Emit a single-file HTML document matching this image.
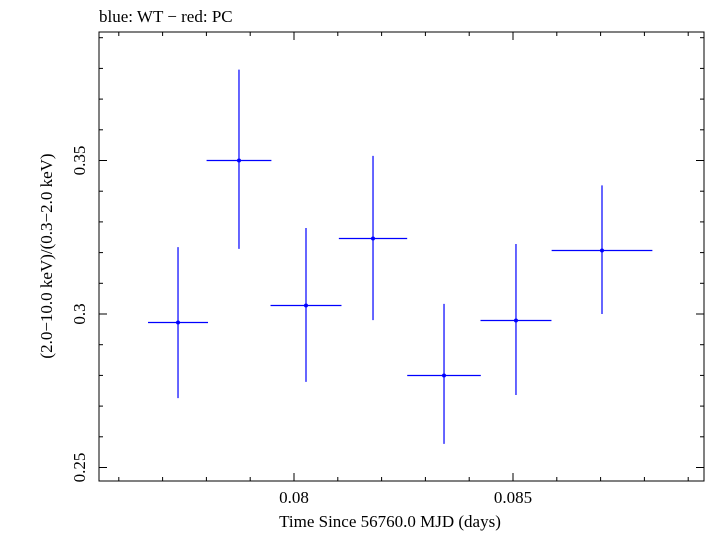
<!DOCTYPE html>
<html><head><meta charset="utf-8"><style>
body{margin:0;background:#fff;}
svg text{font-family:"Liberation Serif",serif;fill:#000;}
</style></head><body>
<svg id="chart" width="705" height="532" xmlns="http://www.w3.org/2000/svg">
<text x="99" y="22" font-size="17">blue: WT − red: PC</text>
<rect x="99" y="32" width="605" height="449" fill="none" stroke="#000" stroke-width="1"/>
<g id="ticks"></g>
<g id="marks"></g>
<text x="390" y="527" font-size="17" text-anchor="middle">Time Since 56760.0 MJD (days)</text>
<text transform="translate(52,256) rotate(-90)" font-size="17" text-anchor="middle">(2.0−10.0 keV)/(0.3−2.0 keV)</text>
</svg>
<script>
const times=[0.077352,0.078744,0.080274,0.081804,0.083425,0.085068,0.087032];
const halfWidths=[0.000685,0.00074,0.00081,0.00078,0.00084,0.00081,0.00115];
const ratios=[0.2974,0.3503,0.3029,0.3248,0.2801,0.2980,0.3208];
const upper=[0.3218,0.3796,0.3280,0.3515,0.3033,0.3228,0.3419];
const lower=[0.2726,0.3212,0.2779,0.2980,0.2577,0.2736,0.3000];
const xTicks=[0.08,0.085];
const xTickLabels=["0.08","0.085"];
const yTicks=[0.25,0.3,0.35];
const yTickLabels=["0.25","0.3","0.35"];
const L=99,R=704,T=32,B=481;
const X=v=>294+(v-0.08)*43800;
const Y=v=>314-(v-0.3)*3070;
const ns="http://www.w3.org/2000/svg";
function mk(tag,attrs,parent){const e=document.createElementNS(ns,tag);for(const k in attrs)e.setAttribute(k,attrs[k]);parent.appendChild(e);return e;}
const tg=document.getElementById('ticks');
for(let i=76;i<=90;i++){const v=i/1000;const x=X(v);if(x<L||x>R)continue;const major=i%5===0;const len=major?8:4;
const t1=mk('line',{x1:x,x2:x,y1:B,y2:B-len,stroke:'#000'},tg);


const t2=mk('line',{x1:x,x2:x,y1:T,y2:T+len,stroke:'#000'},tg);

}
xTicks.forEach((v,i)=>{const t=mk('text',{x:X(v),y:503,'font-size':17,'text-anchor':'middle'},tg);t.textContent=xTickLabels[i];

});
for(let i=24;i<=39;i++){const v=i/100;const y=Y(v);if(y<T||y>B)continue;const major=i%5===0;const len=major?8:4;
const t1=mk('line',{x1:L,x2:L+len,y1:y,y2:y,stroke:'#000'},tg);


const t2=mk('line',{x1:R,x2:R-len,y1:y,y2:y,stroke:'#000'},tg);

}
yTicks.forEach((v,i)=>{const t=mk('text',{transform:`translate(85,${Y(v)}) rotate(-90)`,'font-size':17,'text-anchor':'middle'},tg);t.textContent=yTickLabels[i];

});
const mg=document.getElementById('marks');
times.forEach((t,i)=>{const g=mk('g',{},mg);


const yy=Math.round(Y(ratios[i]))+0.5;
mk('line',{x1:X(t-halfWidths[i]),x2:X(t+halfWidths[i]),y1:yy,y2:yy,stroke:'#0000ff','stroke-width':1.2},g);
mk('line',{x1:X(t),x2:X(t),y1:Y(upper[i]),y2:Y(lower[i]),stroke:'#0000ff','stroke-width':1.2},g);
mk('circle',{cx:X(t),cy:yy,r:2,fill:'#0000ff'},g);});
</script>
</body></html>
